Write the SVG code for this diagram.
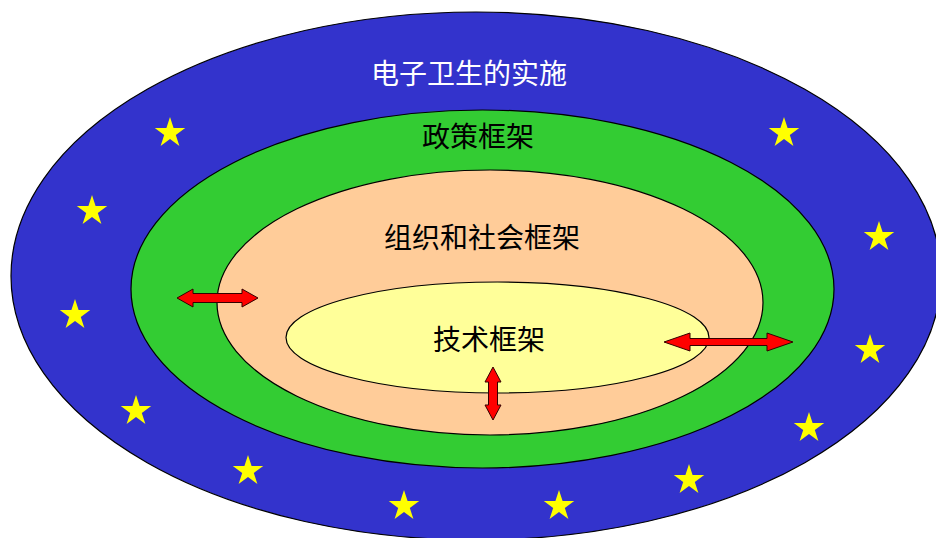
<svg xmlns="http://www.w3.org/2000/svg" xmlns:xlink="http://www.w3.org/1999/xlink" width="936" height="538" viewBox="0 0 936 538">
  <style>
    .ring { stroke: #000000; stroke-width: 1.2; }
    .lbl { font-family: "Noto Sans CJK SC", "Noto Sans CJK TC", sans-serif; font-size: 28px; text-anchor: middle; }
    .arrow { fill: #FF0000; stroke: #330000; stroke-width: 1; stroke-linejoin: miter; }
    .star { fill: #FFFF00; }
  </style>
  <defs>
    <polygon id="star" points="0,-16 3.59,-4.94 15.22,-4.94 5.81,1.89 9.4,12.94 0,6.11 -9.4,12.94 -5.81,1.89 -15.22,-4.94 -3.59,-4.94"/>
  </defs>
  <rect width="936" height="538" fill="#FFFFFF"/>

  <g id="ehealth-implementation">
    <ellipse class="ring" cx="476" cy="276" rx="465" ry="264" fill="#3333CC"/>
    <text class="lbl" x="469" y="84" fill="#FFFFFF">电子卫生的实施</text>
  </g>

  <g id="stars" class="star">
    <use xlink:href="#star" x="170" y="133"/>
    <use xlink:href="#star" x="92" y="211"/>
    <use xlink:href="#star" x="75" y="315"/>
    <use xlink:href="#star" x="136" y="411"/>
    <use xlink:href="#star" x="248" y="471"/>
    <use xlink:href="#star" x="404" y="506"/>
    <use xlink:href="#star" x="559" y="506"/>
    <use xlink:href="#star" x="689" y="480"/>
    <use xlink:href="#star" x="809" y="428"/>
    <use xlink:href="#star" x="870" y="350"/>
    <use xlink:href="#star" x="879" y="237"/>
    <use xlink:href="#star" x="784" y="133"/>
  </g>

  <g id="policy-framework">
    <ellipse class="ring" cx="482.5" cy="289" rx="351.5" ry="179" fill="#33CC33"/>
    <text class="lbl" x="478" y="147" fill="#000000">政策框架</text>
  </g>

  <g id="org-social-framework">
    <ellipse class="ring" cx="490" cy="302.5" rx="273" ry="132.5" fill="#FFCC99"/>
    <text class="lbl" x="482" y="248" fill="#000000">组织和社会框架</text>
  </g>

  <g id="technical-framework">
    <ellipse class="ring" cx="497.5" cy="337.5" rx="211.5" ry="55.5" fill="#FFFF99"/>
    <text class="lbl" x="489" y="350" fill="#000000">技术框架</text>
  </g>

  <g id="connectors">
    <polygon class="arrow" points="177,298 193,289 193,293.5 242,293.5 242,289 258,298 242,307 242,302.5 193,302.5 193,307"/>
    <polygon class="arrow" points="664,342 690,333 690,338.5 767,338.5 767,333 793,342 767,351 767,345.5 690,345.5 690,351"/>
    <polygon class="arrow" points="493,367 501,382 497.5,382 497.5,405 501,405 493,420 485,405 488.5,405 488.5,382 485,382"/>
  </g>
</svg>
